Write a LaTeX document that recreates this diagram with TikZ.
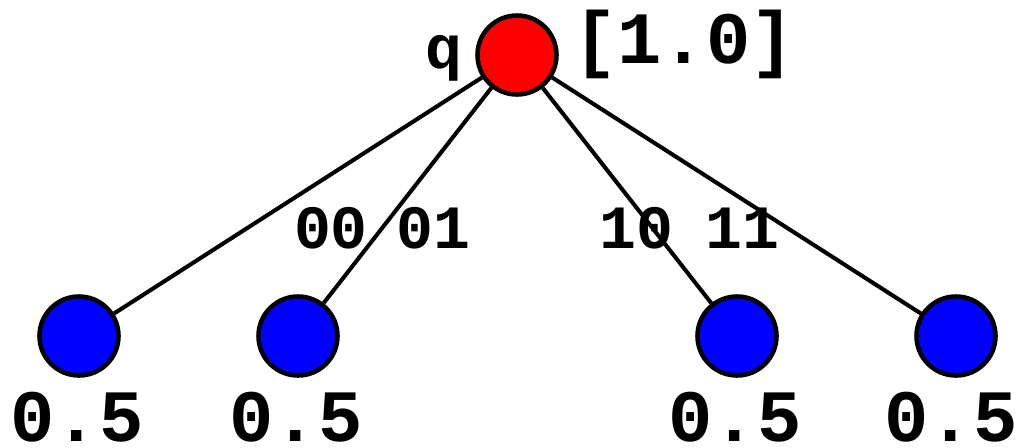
\documentclass[tikz,border=0pt]{standalone}
\usepackage{fontspec}
\setmainfont{Liberation Mono}
\usetikzlibrary{positioning}

\begin{document}
\begin{tikzpicture}[x=0.02cm, y=-0.02cm,
    state/.style={draw, circle, line width=2.6pt, minimum size=1.58cm, inner sep=0pt},
    biglabel/.style={font=\fontsize{42}{42}\selectfont\bfseries, inner sep=0pt, anchor=base},
    smalllabel/.style={font=\fontsize{35}{35}\selectfont\bfseries, inner sep=0pt, anchor=base},
    problabel/.style={biglabel, text depth=0pt}]
    \useasboundingbox (0,0) rectangle (1020,447);
    \node (root) [state, fill=red] at (517,55) {};
    \node (s00) [state, fill=blue] at (79,336) {};
    \node (s01) [state, fill=blue] at (298,336) {};
    \node (s10) [state, fill=blue] at (737,336) {};
    \node (s11) [state, fill=blue] at (956,336) {};

    \node (q) [smalllabel] at (444,68) {q};
    \node (amp) [biglabel] at (684,63) {[1.0]};

    \node (p00) [problabel] at (77,441) {0.5};
    \node (p01) [problabel] at (296,441) {0.5};
    \node (p10) [problabel] at (735,441) {0.5};
    \node (p11) [problabel] at (951,441) {0.5};

    \draw [line width=2.3pt] (root) -- (s00);
    \draw [line width=2.3pt] (root) -- (s01);
    \draw [line width=2.3pt] (root) -- (s10);
    \draw [line width=2.3pt] (root) -- (s11);

    \node (e00) [smalllabel] at (331,248) {00};
    \node (e01) [smalllabel] at (433,248) {01};
    \node (e10) [smalllabel] at (636,248) {10};
    \node (e11) [smalllabel] at (742,248) {11};
\end{tikzpicture}
\end{document}
